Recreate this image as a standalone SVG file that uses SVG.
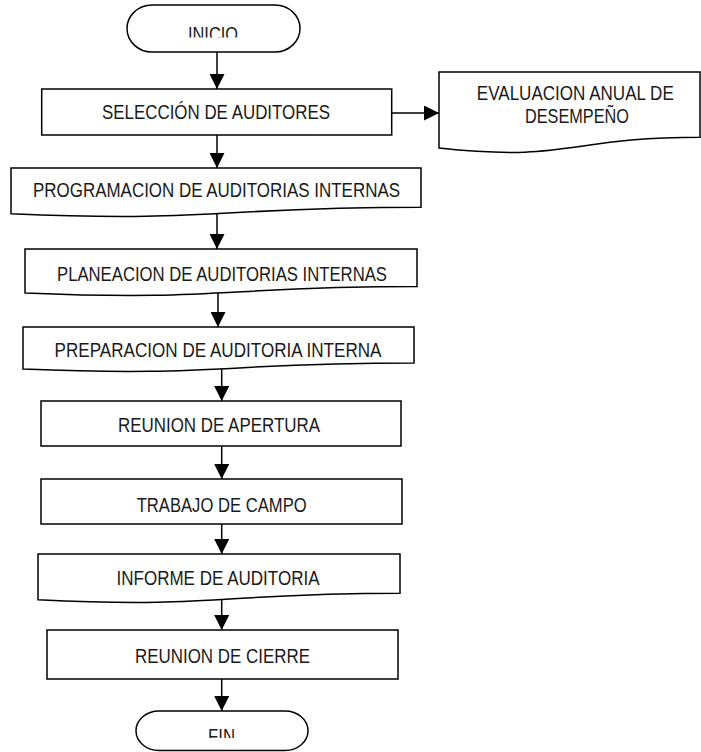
<svg xmlns="http://www.w3.org/2000/svg" width="701" height="752" viewBox="0 0 701 752">
  <style>
    .shape { fill: #ffffff; stroke: #000000; stroke-width: 1.5; }
    .link { fill: none; stroke: #000000; stroke-width: 1.5; }
    .label { font-family: "Liberation Sans Narrow", "Arial Narrow", "Liberation Sans", Arial, sans-serif; font-size: 20px; fill: #1a1a1a; text-anchor: middle; }
  </style>
  <defs>
    <marker id="arrow" viewBox="0 0 15 15" refX="15" refY="7.5" markerWidth="15" markerHeight="15" markerUnits="userSpaceOnUse" orient="auto">
      <path d="M0,0 L15,7.5 L0,15 Z" fill="#000000"/>
    </marker>
    <clipPath id="clip-inicio"><rect x="127" y="5" width="174" height="32.5"/></clipPath>
    <clipPath id="clip-fin"><rect x="136" y="711" width="173" height="27"/></clipPath>
  </defs>

  <rect width="701" height="752" fill="#ffffff"/>

  <!-- connectors -->
  <g id="connectors">
    <line class="link" x1="217" y1="52" x2="217" y2="89" marker-end="url(#arrow)"/>
    <line class="link" x1="392" y1="113" x2="439" y2="113" marker-end="url(#arrow)"/>
    <line class="link" x1="217" y1="135" x2="217" y2="168" marker-end="url(#arrow)"/>
    <line class="link" x1="217" y1="212" x2="217" y2="249" marker-end="url(#arrow)"/>
    <line class="link" x1="218" y1="292" x2="218" y2="327" marker-end="url(#arrow)"/>
    <line class="link" x1="221.7" y1="367" x2="221.7" y2="401" marker-end="url(#arrow)"/>
    <line class="link" x1="221.7" y1="446" x2="221.7" y2="479" marker-end="url(#arrow)"/>
    <line class="link" x1="221.7" y1="524" x2="221.7" y2="554" marker-end="url(#arrow)"/>
    <line class="link" x1="221.7" y1="598" x2="221.7" y2="630" marker-end="url(#arrow)"/>
    <line class="link" x1="221.7" y1="679" x2="221.7" y2="711" marker-end="url(#arrow)"/>
  </g>

  <!-- start terminal -->
  <g id="inicio">
    <rect class="shape" x="127" y="5" width="173" height="47" rx="25" ry="23.5"/>
    <text class="label" x="213" y="40.5" textLength="50" lengthAdjust="spacingAndGlyphs" clip-path="url(#clip-inicio)">INICIO</text>
  </g>

  <g id="seleccion">
    <rect class="shape" x="41.7" y="89" width="350" height="46"/>
    <text class="label" x="216" y="119" textLength="228" lengthAdjust="spacingAndGlyphs">SELECCIÓN DE AUDITORES</text>
  </g>

  <g id="evaluacion">
    <path class="shape" d="M439,72 H700 V137.2 C569.5,137.2 569.5,162.3 439,148.1 Z"/>
    <text class="label" x="575.3" y="99.5" textLength="197" lengthAdjust="spacingAndGlyphs">EVALUACION ANUAL DE</text>
    <text class="label" x="577" y="122.5" textLength="104" lengthAdjust="spacingAndGlyphs">DESEMPEÑO</text>
  </g>

  <g id="programacion">
    <path class="shape" d="M11,168 H421 V207.2 C216,207.2 216,222.3 11,213.8 Z"/>
    <text class="label" x="216.5" y="197" textLength="367" lengthAdjust="spacingAndGlyphs">PROGRAMACION DE AUDITORIAS INTERNAS</text>
  </g>

  <g id="planeacion">
    <path class="shape" d="M25,249 H417 V286.6 C221,286.6 221,301.1 25,292.9 Z"/>
    <text class="label" x="222" y="281" textLength="330" lengthAdjust="spacingAndGlyphs">PLANEACION DE AUDITORIAS INTERNAS</text>
  </g>

  <g id="preparacion">
    <path class="shape" d="M23,327 H414 V363 C218.5,363 218.5,376.9 23,369 Z"/>
    <text class="label" x="218" y="356.7" textLength="327" lengthAdjust="spacingAndGlyphs">PREPARACION DE AUDITORIA INTERNA</text>
  </g>

  <g id="reunion-apertura">
    <rect class="shape" x="41" y="401" width="360" height="45"/>
    <text class="label" x="219" y="431.5" textLength="202" lengthAdjust="spacingAndGlyphs">REUNION DE APERTURA</text>
  </g>

  <g id="trabajo-campo">
    <rect class="shape" x="41" y="479" width="361" height="45"/>
    <text class="label" x="221.7" y="511.5" textLength="170" lengthAdjust="spacingAndGlyphs">TRABAJO DE CAMPO</text>
  </g>

  <g id="informe">
    <path class="shape" d="M38,554 H400 V593.2 C219,593.2 219,608.3 38,599.8 Z"/>
    <text class="label" x="218" y="585" textLength="203" lengthAdjust="spacingAndGlyphs">INFORME DE AUDITORIA</text>
  </g>

  <g id="reunion-cierre">
    <rect class="shape" x="47" y="630" width="351" height="49"/>
    <text class="label" x="222.5" y="663" textLength="175" lengthAdjust="spacingAndGlyphs">REUNION DE CIERRE</text>
  </g>

  <!-- end terminal -->
  <g id="fin">
    <rect class="shape" x="136" y="711" width="172" height="39.5" rx="23" ry="19.75"/>
    <text class="label" x="221.5" y="742.5" textLength="27" lengthAdjust="spacingAndGlyphs" clip-path="url(#clip-fin)">FIN</text>
  </g>
</svg>
